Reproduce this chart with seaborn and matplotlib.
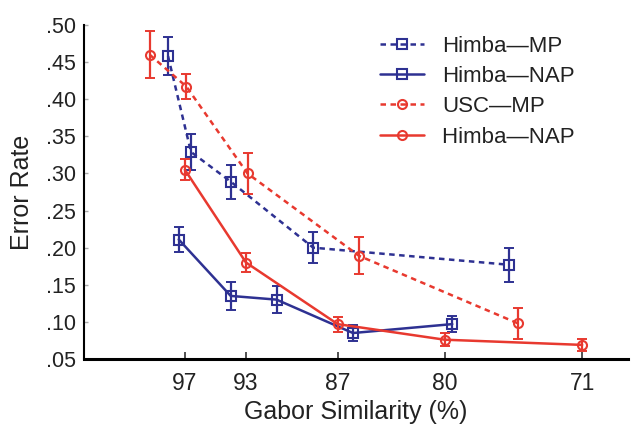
import numpy as np
import pandas as pd
import matplotlib
matplotlib.use("Agg")
import matplotlib.pyplot as plt
import seaborn as sns

# ---- data ----
series_names = ["Himba—MP", "Himba—NAP", "USC—MP", "Himba—NAP "]

himba_mp_x = [98.1, 96.6, 94.0, 88.6, 75.8]
himba_mp_y = [0.458, 0.329, 0.289, 0.200, 0.177]
himba_mp_err = [0.026, 0.024, 0.023, 0.021, 0.023]

himba_nap_x = [97.4, 94.0, 91.0, 86.0, 79.5]
himba_nap_y = [0.211, 0.135, 0.130, 0.085, 0.097]
himba_nap_err = [0.017, 0.019, 0.018, 0.011, 0.011]

usc_mp_x = [99.3, 96.9, 92.9, 85.6, 75.2]
usc_mp_y = [0.460, 0.417, 0.300, 0.189, 0.098]
usc_mp_err = [0.032, 0.017, 0.028, 0.025, 0.021]

usc_nap_x = [97.0, 93.0, 87.0, 80.0, 71.0]
usc_nap_y = [0.305, 0.180, 0.097, 0.076, 0.069]
usc_nap_err = [0.014, 0.013, 0.010, 0.009, 0.008]

x_ticks = [97, 93, 87, 80, 71]
y_ticks = [0.05, 0.10, 0.15, 0.20, 0.25, 0.30, 0.35, 0.40, 0.45, 0.50]
y_tick_labels = [".05", ".10", ".15", ".20", ".25", ".30", ".35", ".40", ".45", ".50"]

# ---- styling ----
sns.set_theme(style="white")
plt.rcParams["font.family"] = ["Liberation Sans", "DejaVu Sans"]

blue = "#2e3192"
red = "#e8392f"

fig = plt.figure(figsize=(6.31, 4.24), dpi=100)
ax = fig.add_axes([84 / 631, 65 / 424, (628 - 84) / 631, (359 - 25) / 424])

specs = [
    (series_names[0], himba_mp_x, himba_mp_y, himba_mp_err, blue, (0, (2.2, 1.8)), "s"),
    (series_names[1], himba_nap_x, himba_nap_y, himba_nap_err, blue, "-", "s"),
    (series_names[2], usc_mp_x, usc_mp_y, usc_mp_err, red, (0, (2.2, 1.8)), "o"),
    (series_names[3], usc_nap_x, usc_nap_y, usc_nap_err, red, "-", "o"),
]

for name, xs, ys, es, col, ls, mk in specs:
    df = pd.DataFrame({"x": xs, "y": ys})
    sns.lineplot(data=df, x="x", y="y", ax=ax, color=col, linestyle=ls,
                 linewidth=1.8, marker=mk, markersize=6.5, markerfacecolor="none",
                 markeredgecolor=col, markeredgewidth=1.5, label=name, sort=False)
    ax.errorbar(xs, ys, yerr=es, fmt="none", ecolor=col, elinewidth=1.6,
                capsize=3.5, capthick=1.4)

ax.set_xlim(103.6, 68.0)
ax.set_ylim(0.05, 0.50)
ax.set_xticks(x_ticks)
ax.set_xticklabels([str(t) for t in x_ticks])
ax.set_yticks(y_ticks)
ax.set_yticklabels(y_tick_labels)

for s in ["top", "right"]:
    ax.spines[s].set_visible(False)
ax.spines["left"].set_color("black")
ax.spines["left"].set_linewidth(1.5)
ax.spines["bottom"].set_color("black")
ax.spines["bottom"].set_linewidth(2.2)

ax.tick_params(axis="x", direction="in", length=5, width=1.2, colors="#333333",
               labelsize=16.5, pad=9, labelcolor="#222222")
ax.tick_params(axis="y", direction="in", length=3, width=1.0, colors="#aaaaaa",
               labelsize=15.5, pad=6, labelcolor="#222222")
ax.tick_params(left=True, bottom=True)

ax.set_xlabel("Gabor Similarity (%)", fontsize=18, color="#222222", labelpad=4)
ax.set_ylabel("Error Rate", fontsize=18, color="#222222", labelpad=8)

leg = ax.legend(loc="upper left", bbox_to_anchor=(0.515, 1.015), frameon=False,
                fontsize=16, handlelength=2.0, handletextpad=0.8,
                labelspacing=0.42, borderaxespad=0.3)
for t in leg.get_texts():
    t.set_color("#222222")

fig.savefig("out.png", dpi=100, facecolor="white")
